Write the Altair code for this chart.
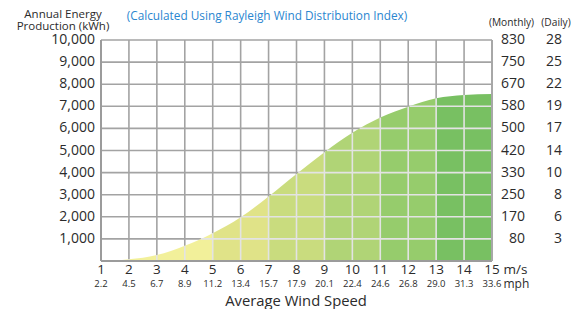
import altair as alt
import pandas as pd
import numpy as np

# ---------------- data ----------------
speed_ms = list(range(1, 16))
speed_mph = ["2.2", "4.5", "6.7", "8.9", "11.2", "13.4", "15.7", "17.9", "20.1",
             "22.4", "24.6", "26.8", "29.0", "31.3", "33.6"]
annual_kwh = [0, 75, 270, 690, 1260, 1980, 2920, 3940, 4920, 5800, 6490, 6980, 7360, 7510, 7560]
grid_kwh = [1000, 2000, 3000, 4000, 5000, 6000, 7000, 8000, 9000, 10000]
monthly_lbl = ["80", "170", "250", "330", "420", "500", "580", "670", "750", "830"]
daily_lbl = ["3", "6", "8", "10", "14", "17", "19", "22", "25", "28"]
band_edges = [1, 5, 7, 9, 11, 13, 15]
band_colors = ["#f2f09a", "#e0e388", "#c9dc7e", "#b0d476", "#96cc6c", "#78c062"]

W, H = 391, 221
FONT = "Open Sans"
TXT = "#2b2b2b"
GRID = "#a3a3a3"
WHITE_GRID = "#e3e3e3"

# ------------- derived helpers (monotone curve like d3.curveMonotoneX) -------------
def monotone_slopes(x, y):
    x = np.asarray(x, float); y = np.asarray(y, float)
    h = np.diff(x); s = np.diff(y) / h
    n = len(x); t = np.zeros(n)
    sg = lambda v: -1.0 if v < 0 else 1.0
    for i in range(1, n - 1):
        h0, h1, s0, s1 = h[i - 1], h[i], s[i - 1], s[i]
        p = (s0 * h1 + s1 * h0) / (h0 + h1)
        t[i] = (sg(s0) + sg(s1)) * min(abs(s0), abs(s1), 0.5 * abs(p))
    t[0] = (3 * s[0] - t[1]) / 2
    t[-1] = (3 * s[-1] - t[-2]) / 2
    return t

def crossing(x, y, level):
    x = np.asarray(x, float); y = np.asarray(y, float)
    t = monotone_slopes(x, y)
    u = np.linspace(0, 1, 400)
    for i in range(len(x) - 1):
        dx = x[i + 1] - x[i]
        h00 = 2 * u**3 - 3 * u**2 + 1
        h10 = u**3 - 2 * u**2 + u
        h01 = -2 * u**3 + 3 * u**2
        h11 = u**3 - u**2
        yy = h00 * y[i] + h10 * dx * t[i] + h01 * y[i + 1] + h11 * dx * t[i + 1]
        idx = np.where(yy >= level)[0]
        if len(idx):
            return float(x[i] + u[idx[0]] * dx)
    return None

curve = pd.DataFrame({"ms": speed_ms, "kwh": annual_kwh, "mph": speed_mph})
vert = curve.iloc[1:-1].copy()
vert["zero"] = 0
hlevels = [g for g in grid_kwh if g < max(annual_kwh)]
horiz = pd.DataFrame({"lvl": hlevels,
                      "x0": [crossing(speed_ms, annual_kwh, g) for g in hlevels],
                      "x1": [speed_ms[-1]] * len(hlevels)})
right = pd.DataFrame({"kwh": grid_kwh, "m": monthly_lbl, "d": daily_lbl})
gv = pd.DataFrame({"ms": speed_ms, "y0": [0] * len(speed_ms), "y1": [10000] * len(speed_ms)})
gh = pd.DataFrame({"kwh": grid_kwh, "x0": [speed_ms[0]] * len(grid_kwh),
                   "x1": [speed_ms[-1]] * len(grid_kwh)})

xs = alt.Scale(domain=[speed_ms[0], speed_ms[-1]], nice=False, zero=False)
ys = alt.Scale(domain=[0, 10000], nice=False)

def X(f):
    return alt.X(f, scale=xs, axis=None)

def Y(f):
    return alt.Y(f, scale=ys, axis=None)

stops = []
for i, c in enumerate(band_colors):
    stops.append(alt.GradientStop(offset=(band_edges[i] - 1) / 14, color=c))
    stops.append(alt.GradientStop(offset=(band_edges[i + 1] - 1) / 14, color=c))
grad = alt.LinearGradient(gradient="linear", stops=stops, x1=0, x2=1, y1=0, y2=0)

# gray grid (under the area)
grid_v = alt.Chart(gv).mark_rule(color=GRID, strokeWidth=1.6).encode(
    x=X("ms:Q"), y=Y("y0:Q"), y2="y1:Q")
grid_h = alt.Chart(gh).mark_rule(color=GRID, strokeWidth=1.6).encode(
    x=X("x0:Q"), x2="x1:Q", y=Y("kwh:Q"))

area = alt.Chart(curve).mark_area(color=grad, interpolate="monotone").encode(
    x=X("ms:Q"), y=Y("kwh:Q"))

vrules = alt.Chart(vert).mark_rule(color=WHITE_GRID, strokeWidth=1.6).encode(
    x=X("ms:Q"), y=Y("zero:Q"), y2="kwh:Q")

hrules = alt.Chart(horiz).mark_rule(color=WHITE_GRID, strokeWidth=1.6).encode(
    x=X("x0:Q"), x2="x1:Q", y=Y("lvl:Q"))

frame_l = alt.Chart(curve).mark_rule(color="#9b9b9b", strokeWidth=2).encode(
    x=alt.value(0), y=alt.value(0), y2=alt.value(H))
frame_b = alt.Chart(curve).mark_rule(color="#9b9b9b", strokeWidth=2).encode(
    x=alt.value(0), x2=alt.value(W), y=alt.value(H))
frame_r = alt.Chart(curve).mark_rule(color="#a8a8a8", strokeWidth=1.6).encode(
    x=alt.value(W), y=alt.value(0), y2=alt.value(H))

# axis labels as text marks
ms_txt = alt.Chart(curve).mark_text(fontSize=13.5, font=FONT, color=TXT,
                                    baseline="middle").encode(
    x=X("ms:Q"), y=alt.value(230), text=alt.Text("ms:Q"))
mph_txt = alt.Chart(curve).mark_text(fontSize=9.5, font=FONT, color=TXT,
                                     baseline="middle").encode(
    x=X("ms:Q"), y=alt.value(243.5), text="mph:N")
kwh_txt = alt.Chart(right).mark_text(fontSize=14, font=FONT, color=TXT, align="right",
                                     baseline="middle").encode(
    x=alt.value(-6), y=Y("kwh:Q"), text=alt.Text("kwh:Q", format=","))
mon_txt = alt.Chart(right).mark_text(fontSize=14, font=FONT, color=TXT, align="right",
                                     baseline="middle").encode(
    x=alt.value(424), y=Y("kwh:Q"), text="m:N")
day_txt = alt.Chart(right).mark_text(fontSize=14, font=FONT, color=TXT, align="right",
                                     baseline="middle").encode(
    x=alt.value(461), y=Y("kwh:Q"), text="d:N")

def label(txt, x, y, size, color=TXT, align="center", baseline="middle"):
    return alt.Chart(pd.DataFrame({"t": [txt]})).mark_text(
        fontSize=size, font=FONT, color=color, align=align, baseline=baseline).encode(
        x=alt.value(x), y=alt.value(y), text="t:N")

texts = [
    label("Annual Energy", -38, -25, 11.5),
    label("Production (kWh)", -38, -13, 11.5),
    label("(Calculated Using Rayleigh Wind Distribution Index)", 166, -24, 11.8, "#2a86cf"),
    label("(Monthly)", 410.5, -17, 10.2),
    label("(Daily)", 455, -17, 10.2),
    label("m/s", 402.5, 230, 13.5, align="left"),
    label("mph", 402.5, 243.5, 12, align="left"),
    label("Average Wind Speed", 195, 266, 14.8, baseline="alphabetic"),
]

chart = alt.layer(grid_v, grid_h, area, vrules, hrules, frame_l, frame_b, frame_r,
                  ms_txt, mph_txt, kwh_txt, mon_txt, day_txt, *texts).properties(
    width=W, height=H,
    autosize=alt.AutoSizeParams(type="none"),
    padding={"left": 93, "top": 32, "right": 84, "bottom": 48},
).configure_view(stroke=None)

chart.save("out.html", embed_options={"renderer": "svg", "actions": False})
